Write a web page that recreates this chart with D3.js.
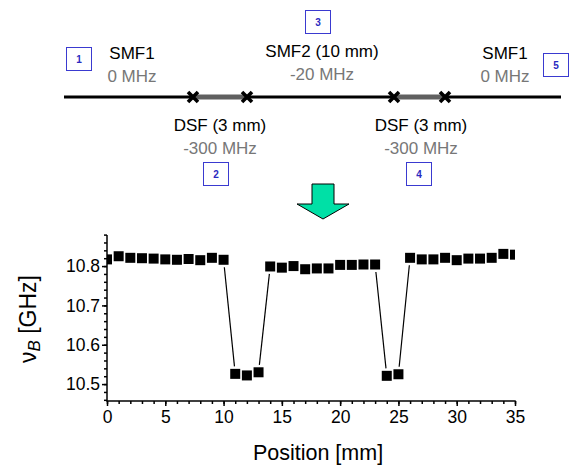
<!DOCTYPE html>
<html>
<head>
<meta charset="utf-8">
<script src="https://cdn.jsdelivr.net/npm/d3@7"></script>
<style>
  body { margin: 0; background: #fff; }
  svg { display: block; font-family: "Liberation Sans", Arial, sans-serif; }
</style>
</head>
<body>
<svg width="569" height="467"></svg>
<script>
/* measured Brillouin frequency along the fibre */
var position = [0, 1, 2, 3, 4, 5, 6, 7, 8, 9, 10, 11, 12, 13, 14, 15, 16, 17,
  18, 19, 20, 21, 22, 23, 24, 25, 26, 27, 28, 29, 30, 31, 32, 33, 34, 35];
var freq = [10.817, 10.825, 10.821, 10.820, 10.819, 10.817, 10.816, 10.818,
  10.815, 10.821, 10.816, 10.526, 10.522, 10.530, 10.799, 10.796, 10.800,
  10.792, 10.794, 10.794, 10.803, 10.803, 10.804, 10.804, 10.521, 10.525,
  10.821, 10.817, 10.817, 10.821, 10.815, 10.819, 10.819, 10.821, 10.831,
  10.829];
var xTicks = [0, 5, 10, 15, 20, 25, 30, 35];
var yTicks = [10.5, 10.6, 10.7, 10.8];

/* fibre sections in the sketch */
var fibreNames = ["SMF1", "DSF (3 mm)", "SMF2 (10 mm)", "DSF (3 mm)", "SMF1"];
var fibreShift = ["0 MHz", "-300 MHz", "-20 MHz", "-300 MHz", "0 MHz"];
var sectionNo = ["1", "2", "3", "4", "5"];

var svg = d3.select("svg");

var plotL = 107, plotR = 515, plotT = 235, plotB = 401;

var xScale = d3.scaleLinear().domain([0, 35]).range([plotL, plotR]);
var yScale = d3.scaleLinear().domain([10.457, 10.879]).range([plotB, plotT]);

/* ---------- sketch of the fibre ---------- */
var lineY = 97;
svg.append("line")
  .attr("x1", 64).attr("x2", 561).attr("y1", lineY).attr("y2", lineY)
  .attr("stroke", "#000").attr("stroke-width", 3);

var dsf = [[193, 247], [394, 445]];
dsf.forEach(function (d) {
  svg.append("line")
    .attr("x1", d[0]).attr("x2", d[1]).attr("y1", lineY).attr("y2", lineY)
    .attr("stroke", "#606060").attr("stroke-width", 5);
  d.forEach(function (cx) {
    var s = 5;
    svg.append("path")
      .attr("d", "M" + (cx - s) + "," + (lineY - s) + "L" + (cx + s) + "," + (lineY + s) +
        "M" + (cx - s) + "," + (lineY + s) + "L" + (cx + s) + "," + (lineY - s))
      .attr("stroke", "#000").attr("stroke-width", 3.6);
  });
});

/* labels: centre x, name baseline */
var labelPos = [[132, 59], [220, 131], [322, 57], [421, 131], [505, 59]];
labelPos.forEach(function (p, i) {
  svg.append("text").attr("x", p[0]).attr("y", p[1])
    .attr("text-anchor", "middle").attr("font-size", 17).attr("fill", "#000")
    .text(fibreNames[i]);
  svg.append("text").attr("x", p[0]).attr("y", p[1] + 23)
    .attr("text-anchor", "middle").attr("font-size", 17).attr("fill", "#777")
    .text(fibreShift[i]);
});

/* numbered boxes */
var boxPos = [[66, 47], [203, 162], [305, 10], [406, 162], [543, 53]];
boxPos.forEach(function (b, i) {
  svg.append("rect").attr("x", b[0] + 0.5).attr("y", b[1] + 0.5)
    .attr("width", 25).attr("height", 23)
    .attr("fill", "#fff").attr("stroke", "#3a3ad0").attr("stroke-width", 1);
  svg.append("text").attr("x", b[0] + 13).attr("y", b[1] + 16)
    .attr("text-anchor", "middle").attr("font-size", 10).attr("font-weight", "bold")
    .attr("fill", "#2a2ac0").text(sectionNo[i]);
});

/* green arrow */
svg.append("path")
  .attr("d", "M312,184 L334,184 L334,204 L349,204 L323,219 L297,204 L312,204 Z")
  .attr("fill", "#00e0a6").attr("stroke", "#000").attr("stroke-width", 1);

/* ---------- plot ---------- */
svg.append("clipPath").attr("id", "plotclip")
  .append("rect").attr("x", plotL).attr("y", plotT)
  .attr("width", plotR - plotL).attr("height", plotB - plotT);

var pts = position.map(function (p, i) { return [xScale(p), yScale(freq[i])]; });

/* connecting lines with a gap at each symbol */
var gap = 7.5;
var plot = svg.append("g").attr("clip-path", "url(#plotclip)");
for (var i = 0; i < pts.length - 1; i++) {
  var a = pts[i], b = pts[i + 1];
  var dx = b[0] - a[0], dy = b[1] - a[1];
  var len = Math.sqrt(dx * dx + dy * dy);
  if (len <= 2 * gap + 1) continue;
  var ux = dx / len, uy = dy / len;
  plot.append("line")
    .attr("x1", a[0] + ux * gap).attr("y1", a[1] + uy * gap)
    .attr("x2", b[0] - ux * gap).attr("y2", b[1] - uy * gap)
    .attr("stroke", "#000").attr("stroke-width", 1.2);
}

var sq = 10;
plot.selectAll("rect.pt")
  .data(position)
  .enter()
  .append("rect")
  .attr("class", "pt")
  .attr("x", function (d) { return xScale(d) - sq / 2; })
  .attr("y", function (d, i) { return yScale(freq[i]) - sq / 2; })
  .attr("width", sq).attr("height", sq)
  .attr("fill", "#000");

/* axes */
var xMinor = d3.range(0, 36, 1);
var yMinor = d3.range(10.46, 10.881, 0.02);

var xAxisMinor = d3.axisBottom(xScale).tickValues(xMinor).tickSize(3).tickFormat("");
var xAxis = d3.axisBottom(xScale).tickValues(xTicks).tickSize(5).tickPadding(5)
  .tickFormat(d3.format("d"));
var yAxisMinor = d3.axisLeft(yScale).tickValues(yMinor).tickSize(3).tickFormat("");
var yAxis = d3.axisLeft(yScale).tickValues(yTicks).tickSize(5).tickPadding(2)
  .tickFormat(d3.format(".1f"));

[xAxisMinor, xAxis].forEach(function (ax) {
  svg.append("g").attr("transform", "translate(0," + plotB + ")").call(ax)
    .call(function (g) { g.select(".domain").remove(); });
});
[yAxisMinor, yAxis].forEach(function (ax) {
  svg.append("g").attr("transform", "translate(" + plotL + ",0)").call(ax)
    .call(function (g) { g.select(".domain").remove(); });
});

svg.selectAll(".tick line").attr("stroke", "#000").attr("stroke-width", 1.5);
svg.selectAll(".tick text").attr("font-size", 17.5).attr("fill", "#000")
  .attr("font-family", "Liberation Sans, Arial, sans-serif");

svg.append("line").attr("x1", plotL).attr("x2", plotR + 0.75)
  .attr("y1", plotB).attr("y2", plotB).attr("stroke", "#000").attr("stroke-width", 1.5);
svg.append("line").attr("x1", plotL).attr("x2", plotL)
  .attr("y1", plotT).attr("y2", plotB + 0.75).attr("stroke", "#000").attr("stroke-width", 1.5);

/* axis titles */
svg.append("text").attr("x", 318).attr("y", 460)
  .attr("text-anchor", "middle").attr("font-size", 21.5).text("Position [mm]");

var yl = svg.append("text")
  .attr("transform", "translate(36,319) rotate(-90)")
  .attr("text-anchor", "middle").attr("font-size", 23);
yl.append("tspan").text("\u03bd");
yl.append("tspan").attr("font-style", "italic").attr("font-size", 17)
  .attr("dy", 4).text("B");
yl.append("tspan").attr("dy", -4).text(" [GHz]");
</script>
</body>
</html>
